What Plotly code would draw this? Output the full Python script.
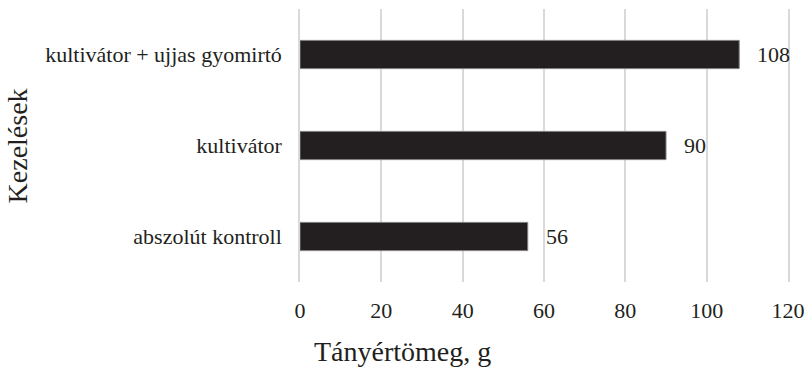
import plotly.graph_objects as go

# Kezelések (bottom to top) and the measured plate weight per treatment
categories = ["abszolút kontroll", "kultivátor", "kultivátor + ujjas gyomirtó"]
values = [56, 90, 108]
x_ticks = [0, 20, 40, 60, 80, 100, 120]

FONT = "Liberation Serif"
INK = "#231f20"
GRID = "#d9d9d9"

fig = go.Figure(
    go.Bar(
        x=values,
        y=categories,
        orientation="h",
        width=0.31,
        marker=dict(color=INK, line=dict(color="#7f7f7f", width=1)),
        hoverinfo="skip",
    )
)

# value labels just to the right of each bar
for v, c in zip(values, categories):
    fig.add_annotation(
        x=v, y=c, text=str(v), showarrow=False,
        xanchor="left", yanchor="middle", xshift=16,
        font=dict(family=FONT, size=22, color=INK),
    )

# axis titles
fig.add_annotation(
    x=0.211, y=-0.256, xref="paper", yref="paper",
    text="Tányértömeg, g", showarrow=False,
    xanchor="center", yanchor="middle",
    font=dict(family=FONT, size=28, color=INK),
)
fig.add_annotation(
    x=-0.578, y=0.5, xref="paper", yref="paper",
    text="Kezelések", showarrow=False, textangle=-90,
    xanchor="center", yanchor="middle",
    font=dict(family=FONT, size=28, color=INK),
)

fig.update_layout(
    width=806, height=369,
    margin=dict(l=300, r=18, t=9, b=87, autoexpand=False),
    paper_bgcolor="white", plot_bgcolor="white",
    showlegend=False,
    font=dict(family=FONT, size=22, color=INK),
    xaxis=dict(
        range=[0, 120], tickvals=x_ticks, ticktext=[str(t) for t in x_ticks],
        showgrid=True, gridcolor=GRID, gridwidth=1.5,
        zeroline=False, showline=False, ticks="",
        ticklabelstandoff=13, automargin=False,
        tickfont=dict(family=FONT, size=22, color=INK),
    ),
    yaxis=dict(
        type="category", categoryorder="array", categoryarray=categories,
        range=[-0.5, 2.5],
        showgrid=False, zeroline=False, ticks="",
        # vertical lines at x = 0 and x = 120 (edge gridlines)
        showline=True, mirror=True, linecolor=GRID, linewidth=1.5,
        ticklabelstandoff=12, automargin=False,
        tickfont=dict(family=FONT, size=22, color=INK),
    ),
)

fig.write_html("out.html")
